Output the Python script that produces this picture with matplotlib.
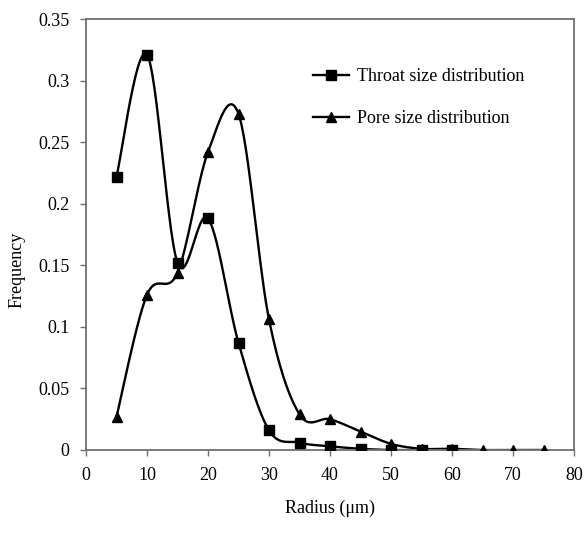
import numpy as np
import matplotlib
matplotlib.use("Agg")
import matplotlib.pyplot as plt
from matplotlib.lines import Line2D

throat_x = [5, 10, 15, 20, 25, 30, 35, 40, 45, 50, 55, 60]
throat_y = [0.222, 0.321, 0.152, 0.188, 0.087, 0.016, 0.006, 0.003, 0.001, 0.0, 0.0, 0.0]
pore_x = [5, 10, 15, 20, 25, 30, 35, 40, 45, 50, 55, 60, 65, 70, 75]
pore_y = [0.027, 0.126, 0.144, 0.242, 0.273, 0.106, 0.029, 0.025, 0.015, 0.005, 0.001, 0.001, 0.0, 0.0, 0.0]
x_ticks = [0, 10, 20, 30, 40, 50, 60, 70, 80]
y_ticks = [0, 0.05, 0.1, 0.15, 0.2, 0.25, 0.3, 0.35]
y_ticklabels = ["0", "0.05", "0.1", "0.15", "0.2", "0.25", "0.3", "0.35"]

plt.rcParams['font.family'] = ['Liberation Serif', 'DejaVu Serif']
FS = 13


def smooth(xs, ys, n=30):
    """Excel-style smoothed line: cubic Bezier with Catmull-Rom control points."""
    P = np.column_stack([xs, ys]).astype(float)
    out = []
    for i in range(len(P) - 1):
        p0 = P[i]
        p3 = P[i + 1]
        pm = P[i - 1] if i > 0 else P[i]
        pp = P[i + 2] if i + 2 < len(P) else P[i + 1]
        c1 = p0 + (p3 - pm) / 6.0
        c2 = p3 - (pp - p0) / 6.0
        t = np.linspace(0, 1, n)[:, None]
        seg = ((1 - t) ** 3) * p0 + 3 * ((1 - t) ** 2) * t * c1 + 3 * (1 - t) * t ** 2 * c2 + t ** 3 * p3
        if i > 0:
            seg = seg[1:]
        out.append(seg)
    out = np.vstack(out)
    return out[:, 0], out[:, 1]


fig = plt.figure(figsize=(5.84, 5.38), dpi=100)
ax = fig.add_axes([86 / 584, 88 / 538, 488 / 584, 431 / 538])

for xs, ys, m, ms in [(throat_x, throat_y, 's', 7), (pore_x, pore_y, '^', 7.5)]:
    sx, sy = smooth(xs, ys)
    ax.plot(sx, sy, color='black', lw=1.7, zorder=2)
    ax.plot(xs, ys, linestyle='none', marker=m, ms=ms, color='black', zorder=3)

ax.set_xlim(0, 80)
ax.set_ylim(0, 0.35)
ax.set_xticks(x_ticks)
ax.set_xticklabels([str(v) for v in x_ticks], fontsize=FS)
ax.set_yticks(y_ticks)
ax.set_yticklabels(y_ticklabels, fontsize=FS)
ax.tick_params(direction='out', length=4, width=1, color='#707070', pad=8)
for s in ax.spines.values():
    s.set_color('#707070')
    s.set_linewidth(1.3)

fig.text(330 / 584, 1 - 508 / 538, "Radius (\u03bcm)", ha='center', va='center', fontsize=FS)
fig.text(17 / 584, 1 - 270 / 538, "Frequency", ha='center', va='center', rotation=90, fontsize=FS)

handles = [
    Line2D([], [], color='black', lw=1.7, marker='s', ms=7),
    Line2D([], [], color='black', lw=1.7, marker='^', ms=7.5),
]
ax.legend(handles, ["Throat size distribution", "Pore size distribution"],
          loc='upper left', bbox_to_anchor=(227 / 488, 1 - 49 / 431), frameon=False,
          fontsize=FS, handlelength=2.0, handletextpad=0.45, labelspacing=1.4,
          borderaxespad=0, borderpad=0)

fig.savefig("out.png", dpi=100)
